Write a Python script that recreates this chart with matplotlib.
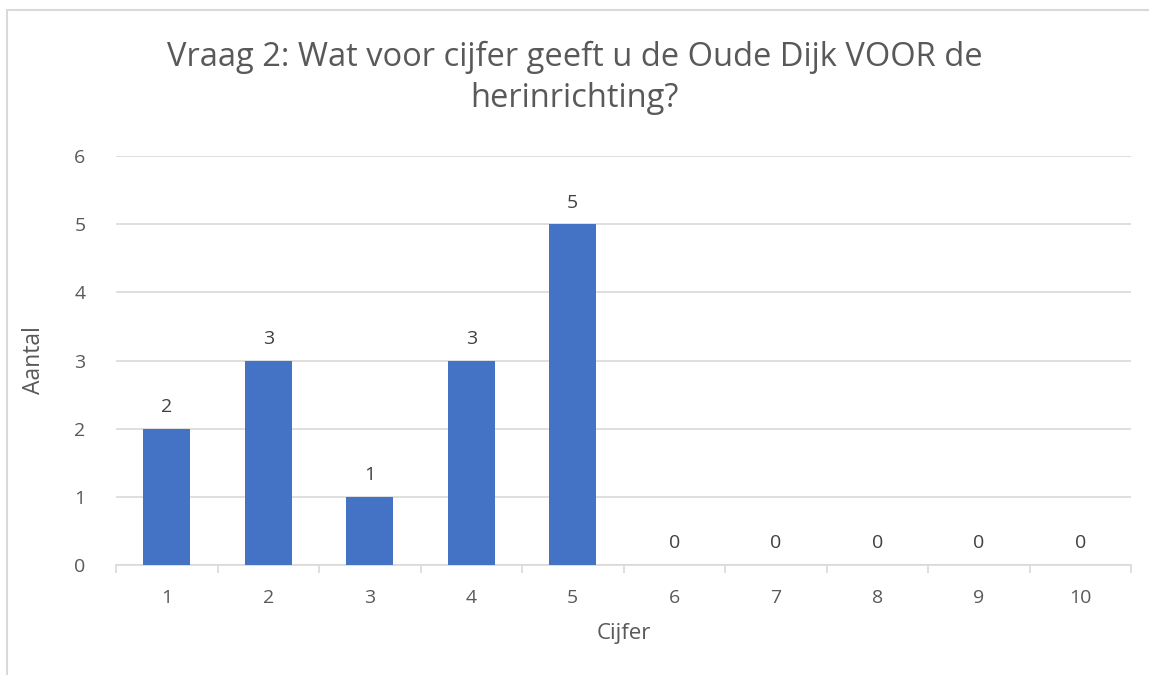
import matplotlib
matplotlib.use("Agg")
import matplotlib.pyplot as plt
from matplotlib.patches import Rectangle
import numpy as np

categories = ["1", "2", "3", "4", "5", "6", "7", "8", "9", "10"]
counts = [2, 3, 1, 3, 5, 0, 0, 0, 0, 0]
title = "Vraag 2: Wat voor cijfer geeft u de Oude Dijk VOOR de\nherinrichting?"

plt.rcParams["font.family"] = ["Open Sans", "DejaVu Sans"]
text_color = "#595959"
grid_color = "#D9D9D9"
bar_color = "#4472C4"

fig = plt.figure(figsize=(11.49, 6.75), dpi=100)
ax = fig.add_axes([116 / 1149, 1 - 565 / 675, (1131 - 116) / 1149, (565 - 156) / 675])

x = np.arange(len(categories))
bars = ax.bar(x, counts, width=0.46, color=bar_color, zorder=3)

for xi, v in zip(x, counts):
    ax.annotate(str(v), (xi, v), xytext=(0, 9), textcoords="offset points",
                ha="center", va="bottom", fontsize=14, color="#404040")

ax.set_xlim(-0.5, len(categories) - 0.5)
ax.set_ylim(0, 6)
ax.set_yticks(range(0, 7))
ax.yaxis.grid(True, color=grid_color, linewidth=1.2, zorder=0)
ax.tick_params(axis="y", length=0, pad=22, labelsize=14, labelcolor=text_color)

ax.set_xticks(x)
ax.set_xticklabels(categories)
ax.set_xticks(np.arange(-0.5, len(categories)), minor=True)
ax.tick_params(axis="x", which="major", length=0, pad=17, labelsize=14, labelcolor=text_color)
ax.tick_params(axis="x", which="minor", length=6, width=1.2, color=grid_color)

for s in ["top", "right", "left"]:
    ax.spines[s].set_visible(False)
ax.spines["bottom"].set_color(grid_color)
ax.spines["bottom"].set_linewidth(1.2)

ax.set_xlabel("Cijfer", fontsize=16, color=text_color, labelpad=12)
ax.set_ylabel("Aantal", fontsize=16.5, color=text_color, labelpad=20)

fig.text(0.5, 1 - 78 / 675, title, ha="center", va="center", fontsize=23.5,
         color=text_color, linespacing=1.35)

# chart area border (runs off the right and bottom edge)
fig.patches.append(Rectangle((6.5 / 1149, -0.1), 1.2, 1 - 10.5 / 675 + 0.1,
                             transform=fig.transFigure, fill=False,
                             edgecolor=grid_color, linewidth=1.5))

fig.savefig("out.png", dpi=100)
